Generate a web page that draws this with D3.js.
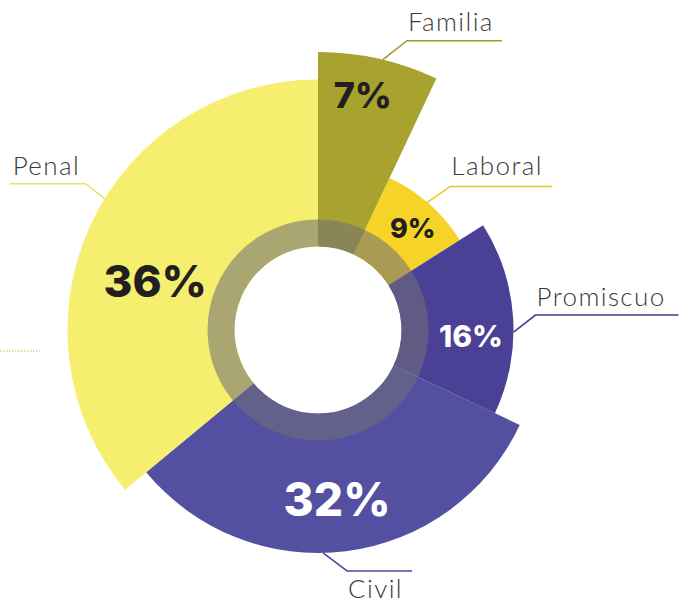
<!DOCTYPE html>
<html>
<head>
<meta charset="utf-8">
<script src="https://cdn.jsdelivr.net/npm/d3@7"></script>
<style>
  html, body { margin: 0; padding: 0; background: #fff; }
  svg { display: block; }
  .pct { font-family: Inter, "Noto Sans", sans-serif; font-weight: 800; }
  .name { font-family: "Lato Light", "Noto Sans Light", Lato, sans-serif; font-weight: 300; fill: #3a3a3a; font-size: 26px; letter-spacing: 1.4px; }
</style>
</head>
<body>
<div id="chart"></div>
<script>
// data
let categories = ['Familia', 'Laboral', 'Promiscuo', 'Civil', 'Penal'];
let shares = [7, 9, 16, 32, 36];
let pctLabels = ['7%', '9%', '16%', '32%', '36%'];
// order of slice length, shortest to longest
let radiusOrder = ['Laboral', 'Promiscuo', 'Civil', 'Penal', 'Familia'];

let width = 679;
let height = 603;
let cx = 318, cy = 330;
let holeR = 83.5, ringR = 110.5;

let colors = d3.scaleOrdinal()
    .domain(categories)
    .range(['#a8a22f', '#f5d327', '#4a4096', '#5350a2', '#f5ee6e']);

let rScale = d3.scalePoint()
    .domain(radiusOrder)
    .range([168, 278]);

// label tweaks (angle nudges in degrees)
let pctStyle = {
  Familia:   {r: 239, nudge: -1.8, size: 36, fill: '#231f20'},
  Laboral:   {r: 139, nudge: 1.6,  size: 27, fill: '#231f20'},
  Promiscuo: {r: 153, nudge: 5.8,  size: 30, fill: '#ffffff'},
  Civil:     {r: 171, nudge: 0.8,  size: 46, fill: '#ffffff'},
  Penal:     {r: 170, nudge: -8.5, size: 44, fill: '#231f20'}
};
let callout = {
  Familia:   {angle: 13.5,  elbow: [24, -19],  len: 95,  textDy: -10},
  Laboral:   {angle: 40.6,  elbow: [23, -16],  len: 102, textDy: -11},
  Promiscuo: {angle: 90.6,  elbow: [22, -17],  len: 143, textDy: -9},
  Civil:     {angle: 178.7, elbow: [24, 18],   len: 65,  textDy: 27},
  Penal:     {angle: 301.6, elbow: [-19, -15], len: -76, textDy: -9}
};

let data = categories.map((c, i) => ({cat: c, value: shares[i], label: pctLabels[i]}));

let pie = d3.pie().sort(null).value(d => d.value);
let arcs = pie(data);

let arc = d3.arc()
    .innerRadius(holeR)
    .outerRadius(d => rScale(d.data.cat));

let svg = d3.select('#chart').append('svg')
    .attr('width', width)
    .attr('height', height);

// dotted stub on the left
svg.append('line')
    .attr('x1', 0).attr('x2', 40)
    .attr('y1', 351).attr('y2', 351)
    .attr('stroke', '#e6c88c')
    .attr('stroke-width', 1.5)
    .attr('stroke-dasharray', '1.5,1.5');

let g = svg.append('g').attr('transform', `translate(${cx},${cy})`);

g.selectAll('path.slice')
  .data(arcs)
  .join('path')
    .attr('class', 'slice')
    .attr('d', arc)
    .attr('fill', d => colors(d.data.cat));

// translucent ring round the hole
g.append('path')
    .attr('d', d3.arc()({innerRadius: holeR, outerRadius: ringR, startAngle: 0, endAngle: 2 * Math.PI}))
    .attr('fill', 'rgb(112,110,118)')
    .attr('fill-opacity', 0.57);

let polar = (r, deg) => {
  let a = deg * Math.PI / 180;
  return [r * Math.sin(a), -r * Math.cos(a)];
};

// percentages
g.selectAll('text.pct')
  .data(arcs)
  .join('text')
    .attr('class', 'pct')
    .attr('text-anchor', 'middle')
    .attr('dy', '0.36em')
    .attr('transform', d => {
      let s = pctStyle[d.data.cat];
      let mid = (d.startAngle + d.endAngle) / 2 * 180 / Math.PI;
      let p = polar(s.r, mid + s.nudge);
      return `translate(${p[0]},${p[1]})`;
    })
    .style('font-size', d => pctStyle[d.data.cat].size + 'px')
    .attr('fill', d => pctStyle[d.data.cat].fill)
    .text(d => d.data.label);

// callouts
let notes = g.selectAll('g.note')
  .data(arcs)
  .join('g')
    .attr('class', 'note');

notes.append('polyline')
    .attr('fill', 'none')
    .attr('stroke', d => d3.color(colors(d.data.cat)).darker(0.15))
    .attr('stroke-width', 1.6)
    .attr('points', d => {
      let c = callout[d.data.cat];
      let p0 = polar(rScale(d.data.cat), c.angle);
      let p1 = [p0[0] + c.elbow[0], p0[1] + c.elbow[1]];
      let p2 = [p1[0] + c.len, p1[1]];
      return [p0, p1, p2].map(p => p.join(',')).join(' ');
    });

notes.append('text')
    .attr('class', 'name')
    .attr('x', d => {
      let c = callout[d.data.cat];
      let p0 = polar(rScale(d.data.cat), c.angle);
      let x = p0[0] + c.elbow[0];
      return c.len < 0 ? x + c.len + 3 : x + 1;
    })
    .attr('y', d => {
      let c = callout[d.data.cat];
      let p0 = polar(rScale(d.data.cat), c.angle);
      return p0[1] + c.elbow[1] + c.textDy;
    })
    .text(d => d.data.cat);
</script>
</body>
</html>
